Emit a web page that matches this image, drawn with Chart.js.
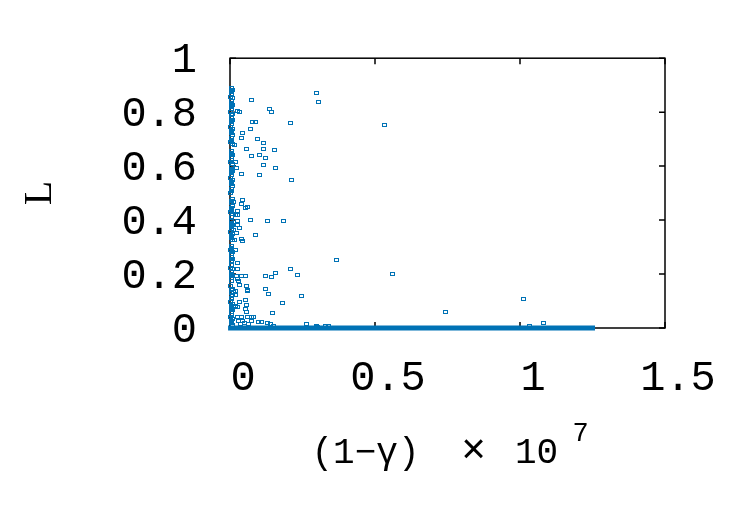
<!DOCTYPE html>
<html>
<head>
<meta charset="utf-8">
<script src="https://cdn.jsdelivr.net/npm/chart.js@4/dist/chart.umd.min.js"></script>
<style>
  html, body { margin: 0; padding: 0; background: #fff; }
  #wrap { width: 750px; height: 525px; }
</style>
</head>
<body>
<div id="wrap"><canvas id="chart" width="750" height="525"></canvas></div>
<script>
const xTicks = [0, 0.5, 1, 1.5];
const yTicks = [0, 0.2, 0.4, 0.6, 0.8, 1];

// scattered points, (1-gamma) x 1e7 vs L
const scatterX = [
  0.298, 0.302, 0.073, 0.136, 0.142, 0.023, 0.030, 0.076, 0.085, 0.206,
  0.530, 0.068, 0.040, 0.037, 0.092, 0.113, 0.015, 0.054, 0.113, 0.151,
  0.099, 0.071, 0.120, 0.016, 0.115, 0.022, 0.154, 0.037, 0.099, 0.209,
  0.040, 0.009, 0.037, 0.058, 0.051, 0.025, 0.025, 0.018, 0.003, 0.068,
  0.126, 0.182, 0.023, 0.023, 0.030, 0.011, 0.020, 0.087, 0.037, 0.041,
  0.013, 0.016, 0.364, 0.023, 0.023, 0.208, 0.156, 0.557, 0.232, 0.120,
  0.140, 0.051, 0.039, 0.021, 0.028, 0.023, 0.032, 0.054, 0.060, 0.120,
  0.131, 0.246, 0.018, 0.018, 0.051, 0.030, 0.180, 0.056, 0.025, 0.017,
  0.052, 0.054, 0.146, 0.059, 0.071, 0.080, 0.037, 0.023, 0.097, 0.108,
  0.128, 0.137, 0.147, 0.072, 0.040, 0.029, 0.261, 0.329, 0.337, 0.300,
  0.741, 1.010, 1.079, 1.031, 0.034, 0.048, 0.062, 0.009, 0.060, 0.298
];
const scatterY = [
  0.871, 0.837, 0.844, 0.813, 0.799, 0.806, 0.800, 0.765, 0.765, 0.758,
  0.751, 0.736, 0.724, 0.704, 0.700, 0.686, 0.677, 0.662, 0.662, 0.660,
  0.641, 0.636, 0.629, 0.614, 0.605, 0.594, 0.592, 0.570, 0.568, 0.547,
  0.474, 0.467, 0.460, 0.449, 0.445, 0.433, 0.419, 0.419, 0.412, 0.401,
  0.397, 0.395, 0.397, 0.380, 0.371, 0.364, 0.353, 0.345, 0.330, 0.323,
  0.327, 0.290, 0.253, 0.240, 0.220, 0.217, 0.203, 0.201, 0.196, 0.192,
  0.190, 0.193, 0.193, 0.193, 0.175, 0.181, 0.158, 0.154, 0.139, 0.143,
  0.126, 0.120, 0.121, 0.136, 0.105, 0.096, 0.091, 0.085, 0.077, 0.082,
  0.069, 0.058, 0.057, 0.040, 0.040, 0.040, 0.042, 0.042, 0.024, 0.024,
  0.020, 0.013, 0.009, 0.026, 0.026, 0.026, 0.013, 0.009, 0.006, 0.004,
  0.058, 0.107, 0.019, 0.006, 0.015, 0.017, 0.013, 0.132, 0.136, 0.007
];

// dense column of points sitting at (1-gamma) ~ 0
const columnX = [0.003, 0.006, 0.002, 0.005, 0.001, 0.007, 0.004];
const columnY = [
  0.890, 0.883, 0.874, 0.866, 0.857, 0.851, 0.843, 0.834, 0.826, 0.819,
  0.811, 0.802, 0.795, 0.788, 0.779, 0.770, 0.763, 0.755, 0.746, 0.739,
  0.730, 0.721, 0.714, 0.706, 0.697, 0.689, 0.681,
  0.655, 0.648, 0.641, 0.632, 0.624, 0.615, 0.607, 0.598, 0.591, 0.582,
  0.573, 0.566, 0.557, 0.550, 0.541, 0.532, 0.525, 0.517, 0.508, 0.500,
  0.478, 0.471, 0.462, 0.453, 0.446, 0.437, 0.430, 0.421,
  0.398, 0.391, 0.382, 0.373, 0.366, 0.357, 0.350, 0.341, 0.333, 0.325,
  0.305, 0.297, 0.288, 0.281, 0.273, 0.264, 0.257, 0.249,
  0.232, 0.224, 0.217, 0.208, 0.199, 0.192, 0.184, 0.176,
  0.154, 0.146, 0.139, 0.130, 0.122, 0.113, 0.106, 0.098, 0.090, 0.081,
  0.074, 0.066, 0.058, 0.049, 0.042, 0.034, 0.026, 0.017, 0.010
];

// the run of points at L = 0 is so dense it reads as a solid band
const zeroBandX = [0.002, 1.25];
const zeroBandY = [0, 0];

const BLUE = '#0072B5';
const FONT = '"Liberation Mono", "DejaVu Sans Mono", monospace';

const scatterData = scatterX.map((x, i) => ({ x, y: scatterY[i] }));
const columnData = columnY.map((y, i) => ({ x: columnX[i % columnX.length], y }));
const bandData = zeroBandX.map((x, i) => ({ x, y: zeroBandY[i] }));

// box, inner ticks on all four sides, and axis titles
const framePlugin = {
  id: 'frame',
  beforeDatasetsDraw(chart) {
    const { ctx, chartArea: a, scales: { x, y } } = chart;
    ctx.save();
    ctx.strokeStyle = '#000';
    ctx.lineWidth = 1.5;
    ctx.strokeRect(a.left, a.top, a.right - a.left, a.bottom - a.top);
    ctx.beginPath();
    xTicks.forEach(v => {
      const px = x.getPixelForValue(v);
      ctx.moveTo(px, a.bottom); ctx.lineTo(px, a.bottom - 6);
      ctx.moveTo(px, a.top); ctx.lineTo(px, a.top + 6);
    });
    yTicks.forEach(v => {
      const py = y.getPixelForValue(v);
      ctx.moveTo(a.left, py); ctx.lineTo(a.left + 6, py);
      ctx.moveTo(a.right, py); ctx.lineTo(a.right - 6, py);
    });
    ctx.stroke();
    ctx.restore();
  },
  // hollow square markers, snapped to whole pixels so they stay crisp
  afterDatasetsDraw(chart) {
    const { ctx } = chart;
    ctx.save();
    ctx.strokeStyle = BLUE;
    ctx.lineWidth = 1;
    chart.data.datasets.forEach((ds, i) => {
      if (!ds.squares) return;
      chart.getDatasetMeta(i).data.forEach(el => {
        const px = Math.round(el.x);
        const py = Math.round(el.y);
        ctx.strokeRect(px - 2 + 0.5, py - 2 + 0.5, 4, 3);
      });
    });
    ctx.restore();
  },
  afterDraw(chart) {
    const { ctx, chartArea: a } = chart;
    const cx = (a.left + a.right) / 2;
    const cy = (a.top + a.bottom) / 2;
    ctx.save();
    ctx.fillStyle = '#000';
    ctx.textAlign = 'center';
    ctx.textBaseline = 'alphabetic';

    // x title: (1-γ) × 10^7
    const base = a.bottom + 135;
    ctx.font = '36px ' + FONT;
    ctx.fillText('(1\u2212\u03b3)', cx - 82, base);
    ctx.fillText('10', cx + 89, base);
    ctx.font = '42px ' + FONT;
    ctx.fillText('\u00d7', cx + 26, base);
    ctx.font = '27px ' + FONT;
    ctx.fillText('7', cx + 133, base - 22);

    // y title
    ctx.translate(40, cy);
    ctx.rotate(-Math.PI / 2);
    ctx.font = '40px "Liberation Serif", serif';
    ctx.textBaseline = 'middle';
    ctx.fillText('L', 0, 0);
    ctx.restore();
  }
};

new Chart(document.getElementById('chart'), {
  type: 'scatter',
  data: {
    datasets: [
      {
        label: 'band',
        type: 'line',
        data: bandData,
        borderColor: BLUE,
        borderWidth: 5,
        borderCapStyle: 'square',
        pointRadius: 0,
        clip: false,
        order: 1
      },
      {
        label: 'column',
        data: columnData,
        pointRadius: 0,
        squares: true,
        clip: false,
        order: 2
      },
      {
        label: 'points',
        data: scatterData,
        pointRadius: 0,
        squares: true,
        clip: false,
        order: 2
      }
    ]
  },
  options: {
    responsive: false,
    animation: false,
    events: [],
    layout: { padding: { top: 56, right: 85, bottom: 0, left: 0 } },
    plugins: {
      legend: { display: false },
      tooltip: { enabled: false }
    },
    scales: {
      x: {
        type: 'linear',
        min: 0,
        max: 1.5,
        afterBuildTicks: s => { s.ticks = xTicks.map(v => ({ value: v })); },
        afterFit: s => { s.height = 197; },
        grid: { display: false, drawTicks: false },
        border: { display: false },
        ticks: {
          font: { family: FONT, size: 42 },
          color: '#000',
          padding: 26,
          labelOffset: 13,
          maxRotation: 0,
          callback: v => String(v)
        }
      },
      y: {
        type: 'linear',
        min: 0,
        max: 1,
        afterBuildTicks: s => { s.ticks = yTicks.map(v => ({ value: v })); },
        afterFit: s => { s.width = 230; },
        grid: { display: false, drawTicks: false },
        border: { display: false },
        ticks: {
          font: { family: FONT, size: 42 },
          color: '#000',
          padding: 33,
          labelOffset: 3,
          callback: v => String(v)
        }
      }
    }
  },
  plugins: [framePlugin]
});
</script>
</body>
</html>
